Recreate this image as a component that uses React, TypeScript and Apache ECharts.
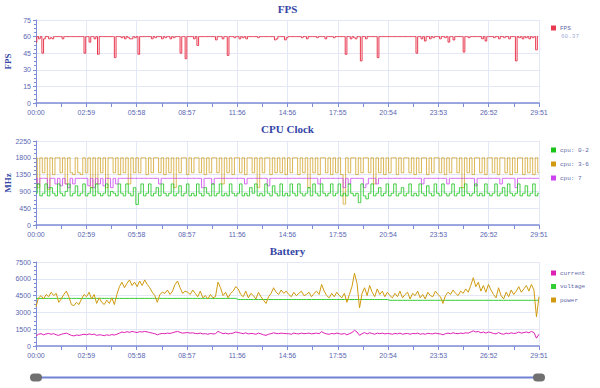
import React, { useEffect, useRef } from "react";
import * as echarts from "echarts";

// ---------- data ----------
const FPS_STEP = 6; // seconds between fps samples
const CPU_STEP = 9; // seconds between cpu samples
const BAT_STEP = 9; // seconds between battery samples
const X_MAX = 1791; // 29:51
const X_INTERVAL = 179.1;

const fpsAverage = "60.37";

const fps = [
  55,60,58,60,45,58,60,60,58,59,58,60,60,60,60,60,58,60,60,60,
  60,60,60,60,60,60,60,60,60,45,60,60,55,60,60,58,60,44,60,60,
  60,60,60,60,60,60,60,41,60,60,60,59,60,58,60,59,58,58,60,59,
  60,44,60,60,60,60,60,60,60,58,60,59,60,60,60,58,60,59,60,60,
  58,60,59,60,60,60,45,60,60,40,60,60,60,60,58,60,52,60,60,60,
  60,60,60,60,60,60,60,57,60,60,60,58,60,60,43,60,60,60,59,60,
  60,58,60,59,60,58,60,60,60,60,60,60,59,60,60,60,60,60,60,60,
  60,60,57,58,60,60,60,60,57,59,60,60,60,60,60,60,60,60,59,60,
  60,58,60,60,60,60,60,59,60,60,60,60,58,60,60,60,60,59,60,60,
  60,60,60,60,44,60,60,58,60,59,58,60,60,38,60,60,58,60,60,60,
  60,60,60,41,60,60,60,60,60,60,60,60,60,60,60,60,60,60,60,60,
  60,60,60,60,60,60,45,60,60,58,60,56,60,60,58,60,59,60,60,60,
  58,60,60,59,60,55,60,60,57,60,60,60,60,60,46,60,60,59,60,60,
  60,60,60,60,60,58,60,56,60,60,60,60,59,60,60,58,60,60,59,60,
  60,58,60,60,60,38,60,59,60,58,60,59,60,58,60,59,60,48,60,
];

const cpu02 = [
  850,1100,780,850,1100,780,1000,850,780,1100,850,780,900,1100,780,850,1050,780,850,1100,
  780,850,1000,780,1100,850,780,850,1100,780,900,850,780,1100,850,780,1100,850,780,1000,
  550,850,1100,780,850,1100,780,850,1000,780,1100,850,780,850,1100,780,850,1050,780,850,
  1100,780,850,780,1100,850,780,1000,850,780,1100,780,850,1100,780,850,780,1100,850,780,
  850,1100,780,850,780,1000,850,1100,780,850,780,1100,850,780,1050,850,780,1100,780,850,
  780,1100,850,780,1100,850,780,850,1000,780,1100,850,780,1100,850,780,850,1100,780,850,
  1100,780,850,780,1100,850,780,850,600,1100,780,700,850,1100,780,850,1000,780,850,1100,
  780,850,1100,780,850,1000,780,850,1100,780,850,780,1100,850,780,1050,850,780,1100,850,
  780,1100,850,780,850,1100,780,850,1000,780,1100,850,780,850,1100,780,850,780,1100,850,
  780,850,1100,780,850,1000,780,1100,850,780,850,1100,780,850,1050,780,850,1100,780,850,
];

const cpu36 = [
  1800,1000,1800,1400,1800,950,1800,1350,1800,1800,1400,1800,1100,1800,1400,1350,1800,1400,1350,1800,
  1400,1800,1000,1800,1100,1800,1400,1800,1000,1800,1800,1400,1800,1350,1800,1400,1800,1100,1800,1400,
  1800,1400,1800,1800,1350,1800,1400,1800,1800,1400,1800,1350,1800,1400,1800,1000,1800,1400,1800,1800,
  1350,1800,1400,1800,1800,1400,1800,1350,1800,1400,1800,1800,1400,1800,1100,1800,1400,1800,1350,1800,
  1800,1400,1800,1350,1800,1800,1400,1800,1000,1800,1400,1800,1800,1350,1800,1400,1800,1400,1800,1350,
  1800,1400,1800,1800,1350,1800,1400,1800,1000,1800,1400,1800,1350,1800,1800,1400,1800,1350,1800,1400,
  1800,1350,560,1800,1400,1800,1800,1350,1800,1400,1800,1800,1400,1800,1100,1800,1400,1800,1350,1800,
  1400,1800,1800,1350,1800,1400,1800,1800,1400,1800,1350,1800,1400,1800,1800,1350,1800,1400,1800,1800,
  1400,1800,1350,1800,1400,1800,1800,1400,1800,1000,1800,1400,1800,1350,1800,1800,1400,1800,1350,1800,
  1800,1400,1800,1350,1800,1800,1400,1800,1350,1800,1400,1800,1800,1350,1800,1400,1800,1350,1800,1400,
];

const cpu7 = [
  1250,1100,1250,1250,1250,1000,1250,1250,1100,1250,1050,1250,1100,1000,1250,1100,1250,1250,1250,1250,
  1250,1050,1250,1000,1250,1100,1250,1050,1250,1250,1000,1250,1100,1250,1250,1250,1250,1250,1250,1250,
  1250,1250,1250,1250,1250,1250,1250,1250,1250,1100,1250,1250,1250,1250,1250,1250,1250,1250,1250,1250,
  1250,1250,1250,1250,1250,1250,1000,1250,1250,1250,1100,1250,1250,1250,1250,1250,1250,1250,1250,1250,
  1250,1250,1250,1100,1250,1250,1250,1250,1250,1250,1250,1250,1050,1250,1250,1250,1250,1250,1250,1250,
  1250,1250,1250,1250,1250,1250,1250,1250,1250,1250,1250,1250,1100,1250,1250,1250,1250,1250,1250,1250,
  1250,1250,1000,1250,1100,1250,1250,1250,1250,1250,1000,1100,1250,1250,1250,1100,1250,1250,1250,1250,
  1250,1250,1250,1250,1250,1250,1250,1250,1250,1250,1250,1250,1250,1100,1250,1250,1250,1250,1250,1250,
  1250,1250,1250,1100,1250,1250,1250,1250,1250,1250,1250,1250,1250,1250,1050,1250,1250,1250,1250,1250,
  1250,1250,1250,1250,1100,1250,1250,1250,1250,1250,1000,1250,1250,1250,1250,1250,1250,1250,1250,1250,
];

const current = [
  900,1050,1100,1000,1080,1120,1050,1100,1000,950,1050,1100,1150,1050,950,900,980,950,1000,1050,
  1000,1080,1020,1060,950,1000,980,920,1000,950,1020,980,1050,1150,1250,1200,1280,1220,1300,1250,
  1200,1280,1250,1300,1260,1200,1150,1100,1000,1080,1120,1100,1150,1120,1180,1250,1300,1220,1150,1180,
  1200,1150,1180,1120,1100,1150,1080,1100,1050,1120,1080,1100,1300,1200,1100,1150,1080,1120,1150,1250,
  1200,1150,1100,1180,1080,1120,1100,1050,1150,1080,1000,950,1050,1100,1180,1120,1100,1150,1120,1100,
  1100,1050,1150,1100,1080,1150,1100,1120,1150,1080,1120,1150,1100,1280,1150,1080,1050,1120,1080,1150,
  1100,1050,1120,1000,1100,1200,1400,1250,950,1100,1200,1080,1180,1120,1050,1150,1100,1150,1080,1120,
  1100,1050,1120,1080,1150,1050,1100,1120,1050,1120,1100,1150,1050,1100,1050,1130,1100,1080,1150,1100,
  1080,1000,1100,1150,1100,1180,1120,1100,1150,1120,1180,1150,1250,1350,1250,1300,1180,1250,1150,1250,
  1200,1120,1080,1200,1100,1050,1150,1100,1180,1120,1150,1250,1150,1200,1250,1180,1300,1200,700,1050,
];

const voltage = [
  4250,4250,4250,4250,4250,4250,4250,4250,4250,4250,4250,4250,4250,4250,4250,4250,4250,4250,4250,4250,
  4250,4250,4250,4250,4250,4250,4250,4250,4250,4250,4250,4250,4250,4250,4250,4250,4250,4250,4250,4250,
  4250,4250,4250,4250,4250,4250,4250,4250,4250,4250,4250,4250,4250,4250,4250,4250,4250,4250,4250,4250,
  4250,4250,4250,4250,4250,4250,4250,4250,4250,4250,4250,4250,4250,4250,4250,4250,4250,4250,4250,4250,
  4150,4150,4150,4150,4150,4150,4150,4150,4150,4150,4150,4150,4150,4150,4150,4150,4150,4150,4150,4150,
  4150,4150,4150,4150,4150,4150,4150,4150,4150,4150,4150,4150,4150,4150,4150,4150,4150,4150,4150,4150,
  4150,4150,4150,4150,4150,4150,4150,4150,4150,4150,4150,4150,4150,4150,4150,4150,4150,4150,4150,4150,
  4080,4080,4080,4080,4080,4080,4080,4080,4080,4080,4080,4080,4080,4080,4080,4080,4080,4080,4080,4080,
  4080,4080,4080,4080,4080,4080,4080,4080,4080,4080,4080,4080,4080,4080,4080,4080,4080,4080,4080,4080,
  4080,4080,4080,4080,4080,4080,4080,4080,4080,4080,4080,4080,4080,4080,4080,4080,4080,4080,4080,4080,
];

const power = [
  3500,4300,4500,4200,4600,4400,4800,4500,4700,3900,4200,4600,4900,4400,3700,3600,3900,3700,4200,4600,
  4400,4800,4200,4600,3800,4300,3900,3700,4100,3800,4300,3700,4600,5300,5700,5200,5600,5900,5400,5700,
  5300,5800,5400,5900,5500,5200,4800,4500,3900,4600,4800,4700,5000,4600,4900,5500,5800,5200,4700,4900,
  4800,4600,5000,4700,4400,4900,4300,4500,4200,4600,4300,4400,5700,5200,4500,4800,4300,4700,4900,5300,
  5100,4600,4400,4900,4300,4700,4500,4200,4800,4400,4100,3800,4400,4700,5200,4800,4600,5000,4700,4900,
  4600,4400,4800,4500,4700,4900,4500,4600,4800,4400,4700,4900,4600,5500,4900,4500,4300,4700,4400,4800,
  4500,4300,4700,3900,4600,5300,6500,5600,3400,4700,5200,4500,5400,4800,4400,5100,4600,4900,4400,4800,
  4500,4300,4700,4400,4900,4300,4600,4800,4200,4700,4500,4900,4300,4600,4200,4800,4500,4400,4900,4600,
  4400,3800,4500,4800,4600,5000,4700,4500,4900,4700,5100,4800,5400,6100,5300,5700,4900,5400,4800,5500,
  5000,4600,4300,5200,4500,4200,4800,4400,5000,4600,4900,5300,4800,5100,5400,4900,5500,5000,2600,4400,
];

// ---------- styles ----------
const AXIS_COLOR = "#7d8dd6";
const LABEL_COLOR = "#5a68b2";
const SPLIT_COLOR = "#e4e8f6";
const TITLE_COLOR = "#3445a6";
const LEGEND_TEXT = "#5d66a6";
const LABEL_FONT = "Liberation Sans";
const MONO_FONT = "Liberation Mono";

const pad = (n: number) => (n < 10 ? "0" + n : "" + n);
const fmtTime = (v: number) => {
  const s = Math.round(v);
  return pad(Math.floor(s / 60)) + ":" + pad(s % 60);
};

const toPairs = (arr: number[], step: number) => arr.map((v, i) => [i * step, v]);

const GRID_LEFT = 36;
const GRID_RIGHT = 61;

function xAxis(gridIndex: number) {
  return {
    type: "value",
    gridIndex,
    min: 0,
    max: X_MAX,
    interval: X_INTERVAL,
    axisLine: { show: true, lineStyle: { color: AXIS_COLOR, width: 1.5 } },
    axisTick: { show: true, length: 4, lineStyle: { color: AXIS_COLOR } },
    minorTick: { show: true, splitNumber: 2, length: 4, lineStyle: { color: AXIS_COLOR } },
    minorSplitLine: { show: false },
    axisLabel: {
      color: LABEL_COLOR,
      fontSize: 7,
      fontFamily: LABEL_FONT,
      margin: 6,
      formatter: (v: number) => fmtTime(v),
    },
    splitLine: { show: true, lineStyle: { color: SPLIT_COLOR } },
  };
}

function yAxis(gridIndex: number, max: number, interval: number, name: string) {
  return {
    type: "value",
    gridIndex,
    min: 0,
    max,
    interval,
    name,
    nameLocation: "middle",
    nameRotate: 90,
    nameGap: 24,
    nameMoveOverlap: false,
    nameTextStyle: {
      color: TITLE_COLOR,
      fontWeight: "bold",
      fontSize: 9,
      fontFamily: "Liberation Serif",
    },
    axisLine: { show: true, lineStyle: { color: AXIS_COLOR } },
    axisTick: { show: true, length: 3, lineStyle: { color: AXIS_COLOR } },
    minorTick: { show: true, splitNumber: 4, length: 2, lineStyle: { color: AXIS_COLOR } },
    axisLabel: {
      color: LABEL_COLOR,
      fontSize: 7,
      fontFamily: LABEL_FONT,
      margin: 5,
      formatter: (v: number) => String(v),
    },
    splitLine: { show: true, lineStyle: { color: SPLIT_COLOR } },
  };
}

function legend(top: number, names: string[], gap: number) {
  return {
    orient: "vertical",
    left: 551,
    top,
    padding: 0,
    itemWidth: 5,
    itemHeight: 5,
    itemGap: gap,
    icon: "rect",
    data: names,
    textStyle: {
      color: LEGEND_TEXT,
      fontSize: 6,
      lineHeight: 8,
      fontFamily: MONO_FONT,
      padding: [0, 0, 0, -1],
    },
    selectedMode: false,
  };
}

function title(text: string, top: number) {
  return {
    text,
    left: (GRID_LEFT + (600 - GRID_RIGHT)) / 2,
    textAlign: "center",
    top,
    padding: 0,
    textStyle: {
      color: TITLE_COLOR,
      fontSize: 11,
      fontWeight: "bold",
      fontFamily: "Liberation Serif",
    },
  };
}

function line(name: string, data: number[][], x: number, color: string, z: number, step?: string, width = 1) {
  return {
    name,
    type: "line",
    xAxisIndex: x,
    yAxisIndex: x,
    data,
    showSymbol: false,
    symbol: "none",
    step: step || false,
    z,
    color,
    lineStyle: { color, width },
    emphasis: { disabled: true },
    silent: true,
  };
}

export default function App() {
  const ref = useRef<HTMLDivElement>(null);

  useEffect(() => {
    if (!ref.current) return;
    const chart = echarts.init(ref.current, undefined, { renderer: "svg" });
    const grid = (top: number, height: number) => ({
      left: GRID_LEFT,
      right: GRID_RIGHT,
      top,
      height,
      containLabel: false,
      outerBoundsMode: "none",
    });
    chart.setOption({
      animation: false,
      backgroundColor: "#ffffff",
      title: [title("FPS", 3), title("CPU Clock", 123), title("Battery", 245)],
      legend: [
        legend(24, ["FPS"], 6),
        legend(146, ["cpu: 0-2", "cpu: 3-6", "cpu: 7"], 6),
        legend(269, ["current", "voltage", "power"], 5.5),
      ],
      grid: [grid(20, 83), grid(141, 84), grid(262, 84)],
      xAxis: [xAxis(0), xAxis(1), xAxis(2)],
      yAxis: [yAxis(0, 75, 15, "FPS"), yAxis(1, 2250, 450, "MHz"), yAxis(2, 7500, 1500, "")],
      series: [
        line("FPS", toPairs(fps, FPS_STEP), 0, "#e8394f", 3, "middle"),
        line("cpu: 3-6", toPairs(cpu36, CPU_STEP), 1, "#cf9a10", 2, "middle", 0.7),
        line("cpu: 7", toPairs(cpu7, CPU_STEP), 1, "#cc44ee", 3, "middle", 0.8),
        line("cpu: 0-2", toPairs(cpu02, CPU_STEP), 1, "#18c418", 4, "middle", 0.8),
        line("current", toPairs(current, BAT_STEP), 2, "#dd1fb4", 2),
        line("voltage", toPairs(voltage, BAT_STEP), 2, "#33cc33", 3),
        line("power", toPairs(power, BAT_STEP), 2, "#cf9a10", 4),
      ],
      graphic: [
        {
          type: "text",
          left: 561,
          top: 33,
          style: { text: fpsAverage, fill: "#a8b0d8", fontSize: 6, fontFamily: MONO_FONT },
        },
        {
          type: "line",
          shape: { x1: 36, y1: 377.5, x2: 541, y2: 377.5 },
          style: { stroke: "#6f82d4", lineWidth: 2 },
        },
        {
          type: "rect",
          shape: { x: 30, y: 373.5, width: 12, height: 8, r: 4 },
          style: { fill: "#707070" },
        },
        {
          type: "rect",
          shape: { x: 533, y: 373.5, width: 12, height: 8, r: 4 },
          style: { fill: "#707070" },
        },
      ],
    });
    return () => chart.dispose();
  }, []);

  return (
    <div
      ref={ref}
      style={{ position: "fixed", left: 0, top: 0, width: 600, height: 388 }}
    />
  );
}
